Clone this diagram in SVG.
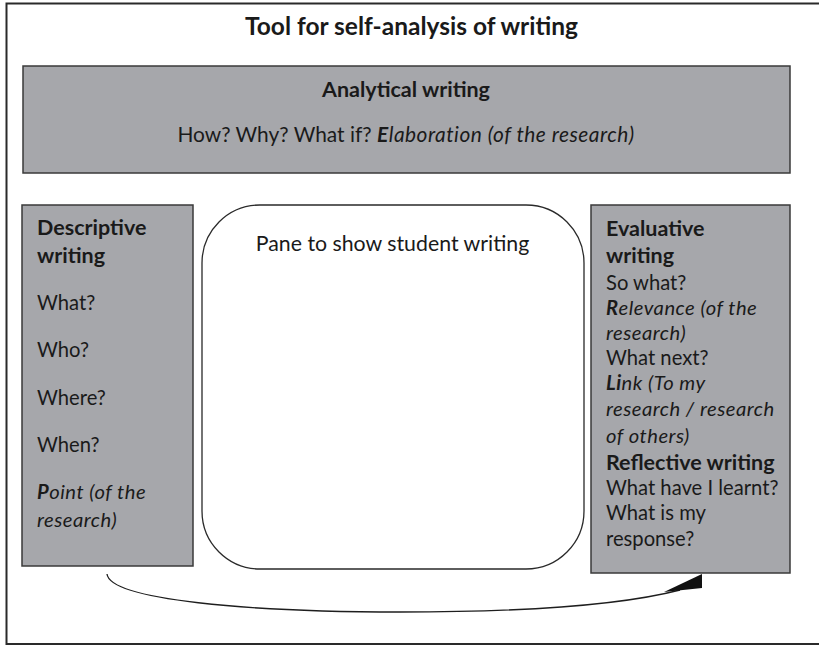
<svg xmlns="http://www.w3.org/2000/svg" width="819" height="647" viewBox="0 0 819 647">
  <style>
    .panel { fill: #a6a7ab; stroke: #3a3a3a; stroke-width: 1.5; }
    .pane { fill: #ffffff; stroke: #2a2a2a; stroke-width: 1.3; }
    text { font-family: Lato, "Liberation Sans", sans-serif; fill: #1a1a1a; }
    .b { font-weight: bold; }
    .i { font-style: italic; letter-spacing: 0.5px; }
    .body { font-size: 20.2px; }
    .head { font-size: 21.5px; font-weight: bold; }
    .conn { fill: none; stroke: #1e1e1e; stroke-width: 1.3; }
  </style>

  <rect width="819" height="647" fill="#ffffff"/>
  <!-- page frame, open on the right side -->
  <rect x="6.5" y="3.5" width="830" height="640.5" fill="none" stroke="#2a2a2a" stroke-width="2"/>

  <text x="411.5" y="35" text-anchor="middle" font-size="24.5" class="b">Tool for self-analysis of writing</text>

  <g id="analytical">
    <rect class="panel" x="23" y="66" width="767" height="107"/>
    <text class="head" x="406" y="97" text-anchor="middle">Analytical writing</text>
    <text x="406" y="142" text-anchor="middle" font-size="20.9">How? Why? What if? <tspan class="b i" letter-spacing="1">E</tspan><tspan class="i" letter-spacing="1">laboration (of the research)</tspan></text>
  </g>

  <g id="descriptive">
    <rect class="panel" x="22" y="205" width="171" height="361"/>
    <text class="head" x="37" y="235" font-size="21">Descriptive</text>
    <text class="head" x="37" y="263" font-size="21">writing</text>
    <text class="body" x="37" y="310">What?</text>
    <text class="body" x="37" y="357">Who?</text>
    <text class="body" x="37" y="405">Where?</text>
    <text class="body" x="37" y="452">When?</text>
    <text class="body i" x="37" y="499" letter-spacing="1.3"><tspan class="b">P</tspan>oint (of the</text>
    <text class="body i" x="37" y="527" letter-spacing="0.8">research)</text>
  </g>

  <g id="pane">
    <rect class="pane" x="202" y="205" width="382" height="364" rx="58" ry="58"/>
    <text x="392.5" y="251" text-anchor="middle" font-size="21.3">Pane to show student writing</text>
  </g>

  <g id="evaluative">
    <rect class="panel" x="591" y="205" width="199" height="368"/>
    <text class="head" x="606" y="236">Evaluative</text>
    <text class="head" x="606" y="263">writing</text>
    <text class="body" x="606" y="290">So what?</text>
    <text class="body i" x="606" y="315" letter-spacing="0.25"><tspan class="b">R</tspan>elevance (of the</text>
    <text class="body i" x="606" y="340">research)</text>
    <text class="body" x="606" y="365">What next?</text>
    <text class="body i" x="606" y="390"><tspan class="b">Li</tspan>nk (To my</text>
    <text class="body i" x="606" y="416" letter-spacing="0.3">research / research</text>
    <text class="body i" x="606" y="443">of others)</text>
    <text class="head" x="606" y="470">Reflective writing</text>
    <text class="body" x="606" y="495">What have I learnt?</text>
    <text class="body" x="606" y="520">What is my</text>
    <text class="body" x="606" y="546">response?</text>
  </g>

  <g id="connectors">
    <path class="conn" d="M107,574 C110,600 250,612 400,612 C540,612 630,603 680,590"/>
    <polygon points="702,574 702,588 664,592" fill="#111111"/>
  </g>
</svg>
